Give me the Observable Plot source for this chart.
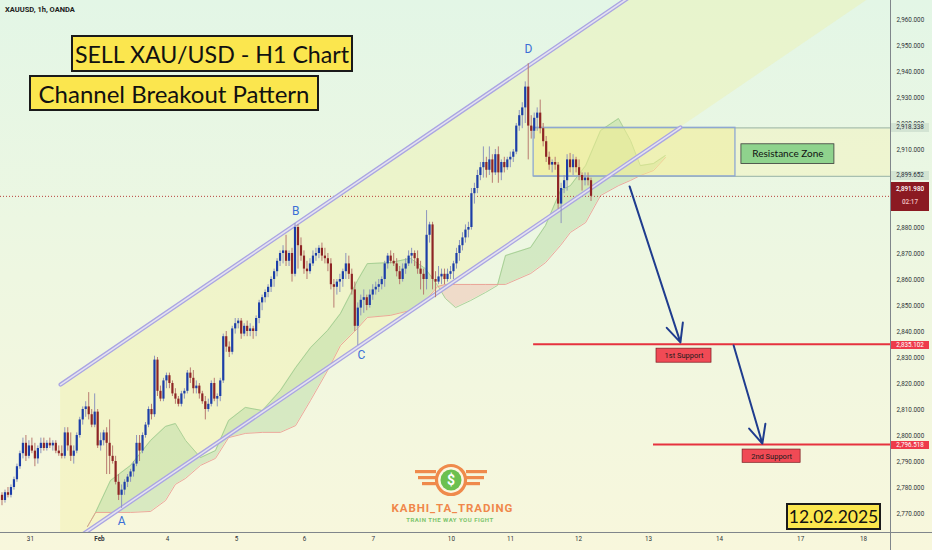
<!DOCTYPE html>
<html><head><meta charset="utf-8">
<script src="https://cdn.jsdelivr.net/npm/d3@7"></script>
<script src="https://cdn.jsdelivr.net/npm/@observablehq/plot@0.6"></script>
<style>
html,body{margin:0;padding:0;background:#fff;}
#wrap{position:relative;width:932px;height:550px;overflow:hidden;background:linear-gradient(180deg,#e3f6e6 0%,#ecf7e2 40%,#f8f7dc 100%);}
#wrap svg.chart{position:absolute;left:0;top:0;}
.box{position:absolute;background:#fbe64e;border:2px solid #1a1a1a;box-sizing:border-box;color:#111;display:flex;align-items:center;justify-content:center;font-family:Lato,"Open Sans",sans-serif;white-space:nowrap;}
.tag{position:absolute;left:891px;width:38px;font-family:Roboto,sans-serif;font-size:6.3px;text-align:center;line-height:9px;white-space:nowrap;}
.hl{position:absolute;background:#80868b;}
</style></head>
<body><div id="wrap"></div>
<script>
// ---- hourly candles XAUUSD (bar index = position in arrays)
const opens = [
2777,2775,2778,2777,2780,2783,2788,2793,2797,2792,
2796,2794,2791,2795,2797,2795,2797,2796,2797,2794,
2793,2792,2801,2796,2792,2794,2800,2806,2810,2811,
2808,2804,2809,2796,2798,2801,2797,2792,2790,2782,
2777,2779,2782,2784,2786,2789,2797,2794,2800,2804,
2810,2808,2829,2817,2814,2821,2823,2820,2816,2814,
2812,2816,2817,2824,2822,2818,2819,2816,2813,2810,
2812,2820,2814,2815,2821,2838,2834,2832,2841,2843,
2844,2839,2842,2840,2841,2840,2845,2851,2853,2855,
2857,2860,2863,2867,2870,2871,2867,2870,2862,2880,
2873,2869,2864,2863,2866,2869,2870,2872,2869,2868,
2866,2858,2857,2859,2860,2863,2866,2862,2856,2842,
2849,2852,2853,2850,2854,2856,2857,2858,2860,2866,
2869,2867,2866,2863,2860,2864,2866,2869,2870,2868,
2864,2862,2860,2877,2881,2860,2859,2861,2862,2860,
2862,2863,2866,2870,2873,2876,2879,2880,2893,2895,
2900,2903,2905,2902,2906,2901,2908,2901,2905,2903,
2906,2907,2909,2919,2923,2926,2934,2919,2917,2922,
2924,2918,2913,2907,2904,2905,2904,2889,2895,2898,
2906,2903,2906,2903,2900,2898,2899,2898];
const highs = [
2778,2779,2780,2781,2784,2789,2794,2799,2800,2798,
2799,2797,2796,2799,2799,2798,2799,2798,2798,2796,
2796,2803,2803,2801,2796,2801,2807,2811,2813,2816.5,
2810,2816,2810,2801,2802,2803,2806,2796,2792,2785,
2781,2783,2785,2787,2790,2800,2800,2801,2805,2811,
2812,2830.5,2830,2819,2822,2824,2824,2821,2818,2815,
2817,2818,2825,2826,2825,2821,2820,2817,2815,2814,
2821,2822,2816,2822,2839,2840,2836,2842,2845,2845,
2845,2843,2844,2843,2842,2846,2852,2854,2856,2858,
2861,2864,2868,2871,2873,2877,2871,2872,2881.5,2881,
2876,2871,2867,2868,2871,2872,2873,2874,2872,2870,
2868,2860,2860,2862,2864,2870,2869,2864,2859,2851,
2854,2856,2854,2856,2858,2859,2860,2861,2867,2870,
2871,2870,2868,2865,2866,2868,2871,2872,2871,2871,
2867,2864,2886.5,2882,2882,2863,2865,2864,2864,2864,
2865,2867,2872,2875,2878,2881,2882,2895,2897,2902,
2905,2911,2907,2911,2908,2910,2911,2906,2907,2907,
2909,2910,2920,2925,2928,2936,2943,2923,2924,2926,
2929,2920,2915,2909,2906,2907,2905,2897,2900,2908,
2908.5,2908,2907,2906,2901,2901,2901,2899];
const lows = [
2773,2774,2776,2776,2779,2782,2787,2791,2790,2791,
2793,2788,2789,2793,2794,2794,2795,2794,2793,2792,
2791,2791,2794,2790,2789,2793,2799,2804,2807,2806,
2803,2803,2795,2794,2796,2785,2785,2789,2781,2775,
2772,2777,2780,2782,2784,2788,2790,2793,2799,2803,
2806,2807,2815,2813,2813,2818,2818,2815,2812,2811,
2811,2814,2816,2820,2816,2816,2814,2812,2806,2809,
2811,2813,2811,2813,2820,2832,2830,2831,2839,2841,
2837,2838,2838,2838,2837,2838,2843,2848,2851,2853,
2855,2857,2861,2865,2866,2865,2865,2859,2861,2864,
2867,2862,2860,2862,2865,2867,2868,2867,2866,2863,
2856,2849,2854,2855,2857,2860,2860,2854,2840,2834.6,
2846,2847,2848,2849,2852,2854,2855,2856,2857,2864,
2866,2865,2861,2858,2859,2862,2865,2866,2865,2862,
2856,2854,2856,2874,2856,2853,2858,2858,2858,2859,
2860,2860,2864,2867,2871,2874,2876,2879,2889,2893,
2898,2899,2899,2900,2897,2900,2897,2898,2901,2902,
2903,2905,2908,2917,2918,2920,2906,2914,2914,2917,
2916,2911,2905,2902,2901,2902,2887,2881.5,2893,2894,
2901,2900,2901,2898,2894,2896,2896,2890];
const closes = [
2775,2778,2777,2780,2783,2788,2793,2797,2792,2796,
2794,2791,2795,2797,2795,2797,2796,2797,2794,2793,
2792,2801,2796,2792,2794,2800,2806,2810,2811,2808,
2804,2809,2796,2798,2801,2797,2792,2790,2782,2777,
2779,2782,2784,2786,2789,2797,2794,2800,2804,2810,
2808,2829,2817,2814,2821,2823,2820,2816,2814,2812,
2816,2817,2824,2822,2818,2819,2816,2813,2810,2812,
2820,2814,2815,2821,2838,2834,2832,2841,2843,2844,
2839,2842,2840,2841,2840,2845,2851,2853,2855,2857,
2860,2863,2867,2870,2871,2867,2870,2862,2880,2873,
2869,2864,2863,2866,2869,2870,2872,2869,2868,2866,
2858,2857,2859,2860,2863,2866,2862,2856,2842,2849,
2852,2853,2850,2854,2856,2857,2858,2860,2866,2869,
2867,2866,2863,2860,2864,2866,2869,2870,2868,2864,
2862,2860,2877,2881,2860,2859,2861,2862,2860,2862,
2863,2866,2870,2873,2876,2879,2880,2893,2895,2900,
2903,2905,2902,2906,2901,2908,2901,2905,2903,2906,
2907,2909,2919,2923,2926,2934,2919,2917,2922,2924,
2918,2913,2907,2904,2905,2904,2889,2895,2898,2906,
2903,2906,2903,2900,2898,2899,2898,2891.98];

// ---- time axis (bar units)
const dayTickBars = [10.0, 33.1, 55.9, 78.9, 101.7, 124.7, 150.8, 170.6, 193.3, 216.7, 240.5, 267.6, 288.6];
const dayTickLabels = ["31","Feb","4","5","6","7","10","11","12","13","14","17","18"];
// price tick labels shown on the right scale (2,890 and 2,900 sit under the price tags)
const priceTicks = [2770,2780,2790,2800,2810,2820,2830,2840,2850,2860,2870,2880,2910,2920,2930,2940,2950,2960];
const xDomain = [0, 297.66];
const yDomain = [2762.7, 2967.3];

// ---- Ichimoku cloud (span A / span B)
const cloudBars = [29.1,31.8,36.8,43.5,50.2,55.2,58.5,61.9,66.9,71.9,76.3,81.9,87.6,93.6,98.7,103.7,109.4,113.7,119.4,122.7,130.4,137.1,142.1,146.2,148.8,152.2,157.2,162.2,166.2,168.9,177.3,182.3,187.3,190.6,195.7,200.7,206.7,210.7,214.0,218.4,222.4];
const spanA = [2765,2770.4,2782.7,2788.5,2798.1,2803.5,2804.6,2798.1,2791.5,2794.2,2805.8,2810.8,2809.6,2817.3,2826.1,2833.8,2840.4,2846.9,2859.6,2866.1,2866.5,2868.1,2864.2,2857.7,2852.7,2849.2,2851.9,2855.0,2857.7,2869.2,2872.3,2880.8,2894.2,2896.1,2903.8,2917.3,2921.9,2913.5,2903.8,2904.6,2907.7];
const spanB = [2765,2770.4,2770.4,2770.4,2770.8,2775.0,2781.2,2783.5,2788.5,2791.2,2799.2,2800.8,2801.2,2801.2,2803.8,2813.5,2825.0,2834.6,2841.2,2845.4,2846.2,2848.1,2851.9,2857.3,2858.1,2858.1,2858.1,2858.1,2858.1,2858.1,2862.3,2866.5,2873.1,2878.1,2881.9,2892.3,2896.1,2898.1,2900.0,2901.9,2906.9];

// ---- drawings
const channelBars = [20.1, 227.4];
const channelUpper = [2819.6, 2982.0];
const channelLower = [2756.2, 2918.5];
const channelFillEnd = 292;   // background of the channel carried on to the right
const zoneBars = [178.3, 245.8];
const zonePrices = [2899.652, 2918.338];
const supportPrices = [2835.102, 2796.518];
const supportStart = [178.3, 218.4];
const supportNames = ["1st Support", "2nd Support"];
const supportLabelBars = [[219.4, 237.8], [248.2, 267.6]];
const supportLabelPrices = [[2828.0, 2833.4], [2789.5, 2794.6]];
const resistanceLabelBars = [247.8, 278.9];
const resistanceLabelPrices = [2904.4, 2912.0];
const arrowFrom = [[210.4, 2895.8], [245.2, 2834.6]];
const arrowTo = [[227.4, 2835.8], [254.8, 2796.9]];
const pivotNames = ["A","B","C","D"];
const pivotBars = [40.5, 98.7, 120.7, 176.6];
const pivotPrices = [2766.9, 2886.2, 2830.8, 2948.5];

// ---- build tables
const candles = closes.map((c, i) => ({x: i + 0.5, o: opens[i], h: highs[i], l: lows[i], c}));
const isUp = d => d.c >= d.o;
const slope = (channelLower[1] - channelLower[0]) / (channelBars[1] - channelBars[0]);
const chan = channelBars.map((x, i) => ({x, hi: channelUpper[i], lo: channelLower[i]}));
const chanFill = [
  {x: channelBars[0], lo: channelLower[0], hi: channelUpper[0]},
  {x: channelBars[1], lo: channelLower[1], hi: channelUpper[1]},
  {x: channelBars[1], lo: channelLower[1], hi: channelUpper[1] + 200},
  {x: channelFillEnd, lo: channelLower[1] + slope * (channelFillEnd - channelBars[1]), hi: channelUpper[1] + 200}
];
const pts = cloudBars.map((x, i) => ({x, a: spanA[i], b: spanB[i]}));
const cloudRows = [];
let seg = 0;
pts.forEach((d, i) => {
  if (i > 0) {
    const p = pts[i - 1];
    const s0 = Math.sign(p.a - p.b), s1 = Math.sign(d.a - d.b);
    if (s0 && s1 && s0 !== s1) {
      const t = (p.a - p.b) / ((p.a - p.b) - (d.a - d.b));
      const cx = p.x + t * (d.x - p.x), cy = p.a + t * (d.a - p.a);
      cloudRows.push({x: cx, a: cy, b: cy, seg, up: s0 > 0});
      seg++;
      cloudRows.push({x: cx, a: cy, b: cy, seg, up: s1 > 0});
    }
  }
  cloudRows.push({...d, seg, up: d.a >= d.b});
});
const zoneRows = [
  {x1: zoneBars[0], x2: zoneBars[1], lo: zonePrices[0], hi: zonePrices[1], kind: "box"},
  {x1: zoneBars[1], x2: xDomain[1], lo: zonePrices[0], hi: zonePrices[1], kind: "ext"}
];
const supportRows = supportPrices.map((p, i) => ({p, start: supportStart[i], end: xDomain[1]}));
const supportLabelRows = supportNames.map((t, i) => ({t, x1: supportLabelBars[i][0], x2: supportLabelBars[i][1], y1: supportLabelPrices[i][0], y2: supportLabelPrices[i][1]}));
const arrowRows = arrowFrom.map((f, i) => ({x1: f[0], y1: f[1], x2: arrowTo[i][0], y2: arrowTo[i][1]}));
const pivotRows = pivotNames.map((t, i) => ({t, x: pivotBars[i], y: pivotPrices[i]}));
const resRow = [{t: "Resistance Zone", x1: resistanceLabelBars[0], x2: resistanceLabelBars[1], y1: resistanceLabelPrices[0], y2: resistanceLabelPrices[1]}];
const tickLabel = new Map(dayTickBars.map((b, i) => [b, dayTickLabels[i]]));
const lastClose = closes[closes.length - 1];

const chart = Plot.plot({
  width: 932, height: 550,
  marginTop: 0, marginRight: 42, marginBottom: 18, marginLeft: 0,
  style: {background: "transparent", fontFamily: "Roboto, sans-serif", fontSize: "6.3px", color: "#2a2e39"},
  x: {domain: xDomain, axis: null},
  y: {domain: yDomain, axis: null},
  marks: [
    Plot.areaY(chanFill, {x: "x", y1: "lo", y2: "hi", fill: "#f3ee96", fillOpacity: 0.3, clip: true}),
    Plot.areaY(cloudRows, {x: "x", y1: "b", y2: "a", z: "seg", fill: d => d.up ? "#b9dca6" : "#f0bfb2", fillOpacity: 0.5, clip: true}),
    Plot.line(pts, {x: "x", y: "a", stroke: "#9cc98a", strokeWidth: 0.8, clip: true}),
    Plot.line(pts, {x: "x", y: "b", stroke: "#e8958a", strokeWidth: 0.8, clip: true}),
    Plot.rect(zoneRows, {x1: "x1", x2: "x2", y1: "lo", y2: "hi", fill: d => d.kind === "box" ? "#f2ec90" : "#f4f1b8", fillOpacity: d => d.kind === "box" ? 0.55 : 0.45, clip: true}),
    Plot.ruleY(zonePrices, {x1: zoneBars[0], x2: xDomain[1], stroke: "#a7bfb0", strokeWidth: 1.2}),
    Plot.rect(zoneRows.filter(d => d.kind === "box"), {x1: "x1", x2: "x2", y1: "lo", y2: "hi", fill: "none", stroke: "#8ea7d2", strokeWidth: 1.3}),
    Plot.ruleY([lastClose], {stroke: "#b8413c", strokeWidth: 1, strokeDasharray: "1,2"}),
    Plot.ruleY(supportRows, {y: "p", x1: "start", x2: "end", stroke: "#e6323e", strokeWidth: 2}),
    Plot.line(chan, {x: "x", y: "hi", stroke: "#aaa5e2", strokeWidth: 4.2, clip: true}),
    Plot.line(chan, {x: "x", y: "hi", stroke: "#e4e2f0", strokeWidth: 1.6, clip: true}),
    Plot.line(chan, {x: "x", y: "lo", stroke: "#aaa5e2", strokeWidth: 4.2, clip: true}),
    Plot.line(chan, {x: "x", y: "lo", stroke: "#e4e2f0", strokeWidth: 1.6, clip: true}),
    Plot.ruleX(candles, {x: "x", y1: "l", y2: "h", stroke: d => isUp(d) ? "#8d95bd" : "#b87a70", strokeWidth: 1}),
    Plot.ruleX(candles, {x: "x", y1: "o", y2: "c", stroke: d => isUp(d) ? "#1c3ea8" : "#8e2525", strokeWidth: 2.2}),
    Plot.arrow(arrowRows, {x1: "x1", y1: "y1", x2: "x2", y2: "y2", stroke: "#1f3c8e", strokeWidth: 2, headLength: 15, headAngle: 50}),
    Plot.rect(resRow, {x1: "x1", x2: "x2", y1: "y1", y2: "y2", fill: "#8fd38d", stroke: "#3a3a3a", strokeWidth: 0.8}),
    Plot.text(resRow, {x: d => (d.x1 + d.x2) / 2, y: d => (d.y1 + d.y2) / 2, text: "t", fontSize: 10, fill: "#111", fontFamily: "Lato, sans-serif"}),
    Plot.rect(supportLabelRows, {x1: "x1", x2: "x2", y1: "y1", y2: "y2", fill: "#f04a55", stroke: "#7a1a1f", strokeWidth: 0.7}),
    Plot.text(supportLabelRows, {x: d => (d.x1 + d.x2) / 2, y: d => (d.y1 + d.y2) / 2, text: "t", fontSize: 7.5, fill: "#1a1a1a", fontFamily: "Roboto, sans-serif"}),
    Plot.text(pivotRows, {x: "x", y: "y", text: "t", fontSize: 12, fill: "#3b6fd6", fontFamily: "Roboto, sans-serif"}),
    Plot.axisY({anchor: "right", ticks: priceTicks, tickSize: 0, tickPadding: 6, tickFormat: d3.format(",.3f"), label: null, fill: "#2f3338"}),
    Plot.axisX({anchor: "bottom", ticks: dayTickBars, tickSize: 0, tickPadding: 4, tickFormat: d => tickLabel.get(d), label: null, fill: "#2f3338"})
  ]
});
chart.classList.add("chart");
d3.select(chart).selectAll("text").filter(function(){ return this.textContent === "Feb"; }).attr("font-weight", "bold");
const wrap = document.getElementById("wrap");
wrap.appendChild(chart);

// axis frame lines
const add = (html) => { wrap.insertAdjacentHTML("beforeend", html); };
add(`<div class="hl" style="left:0;top:532px;width:932px;height:1px"></div>`);
add(`<div class="hl" style="left:890px;top:0;width:1px;height:550px"></div>`);

// price tags on right axis
const ys = chart.scale("y");
function tag(price, text, bg, fg, dy, h, extra) {
  const y = ys.apply(price);
  add(`<div class="tag" style="top:${(y + dy).toFixed(1)}px;height:${h}px;background:${bg};color:${fg};${extra || ""}">${text}</div>`);
}
const f3 = d3.format(",.3f");
tag(zonePrices[1], f3(zonePrices[1]), "#d3e4d3", "#2a2e39", -4, 9);
tag(zonePrices[0], f3(zonePrices[0]), "#d3e4d3", "#2a2e39", -4.5, 9);
tag(lastClose, `<div style="padding-top:1px">${f3(lastClose)}</div><div style="color:#f3c4c4">02:17</div>`, "#8b1a22", "#fff", -14, 29, "line-height:13px;font-weight:500;");
tag(supportPrices[0], f3(supportPrices[0]), "#ee3a4a", "#fff", -3, 8, "line-height:8px;");
tag(supportPrices[1], f3(supportPrices[1]), "#ee3a4a", "#fff", -3.5, 8, "line-height:8px;");

// titles and stamps
add(`<div style="position:absolute;left:5px;top:5px;font-family:Roboto,sans-serif;font-size:7.5px;font-weight:700;color:#222">XAUUSD, 1h, OANDA</div>`);
add(`<div class="box" style="left:71px;top:35px;width:282px;height:37px;font-size:23.2px;">SELL XAU/USD - H1 Chart</div>`);
add(`<div class="box" style="left:29px;top:75px;width:290px;height:36px;font-size:24px;">Channel Breakout Pattern</div>`);
add(`<div class="box" style="left:786px;top:503px;width:95px;height:27px;font-size:17.5px;">12.02.2025</div>`);

// logo
add(`<svg style="position:absolute;left:376px;top:452px" width="150" height="80" viewBox="0 0 150 80">
  <rect x="39" y="18" width="21" height="3.2" fill="#ef8a4c"/>
  <rect x="42" y="24" width="18" height="3.2" fill="#ef8a4c"/>
  <rect x="46" y="30" width="15" height="3.2" fill="#ef8a4c"/>
  <rect x="90" y="18" width="21" height="3.2" fill="#ef8a4c"/>
  <rect x="90" y="24" width="18" height="3.2" fill="#ef8a4c"/>
  <rect x="89" y="30" width="15" height="3.2" fill="#ef8a4c"/>
  <circle cx="75" cy="28" r="14.5" fill="#fbf6e0" stroke="#ef8a4c" stroke-width="3.2"/>
  <circle cx="75" cy="28" r="10.5" fill="#6cc04f"/>
  <text x="75" y="33" text-anchor="middle" font-family="Roboto,sans-serif" font-weight="700" font-size="14" fill="#fff">$</text>
  <text x="76.5" y="60" text-anchor="middle" font-family="Roboto,sans-serif" font-weight="700" font-size="11.5" letter-spacing="0.9" fill="#f0874b">KABHI_TA_TRADING</text>
  <text x="74" y="70" text-anchor="middle" font-family="Roboto,sans-serif" font-weight="700" font-size="6" letter-spacing="0.5" fill="#7dc56c">TRAIN THE WAY YOU FIGHT</text>
</svg>`);
</script>
</body></html>
